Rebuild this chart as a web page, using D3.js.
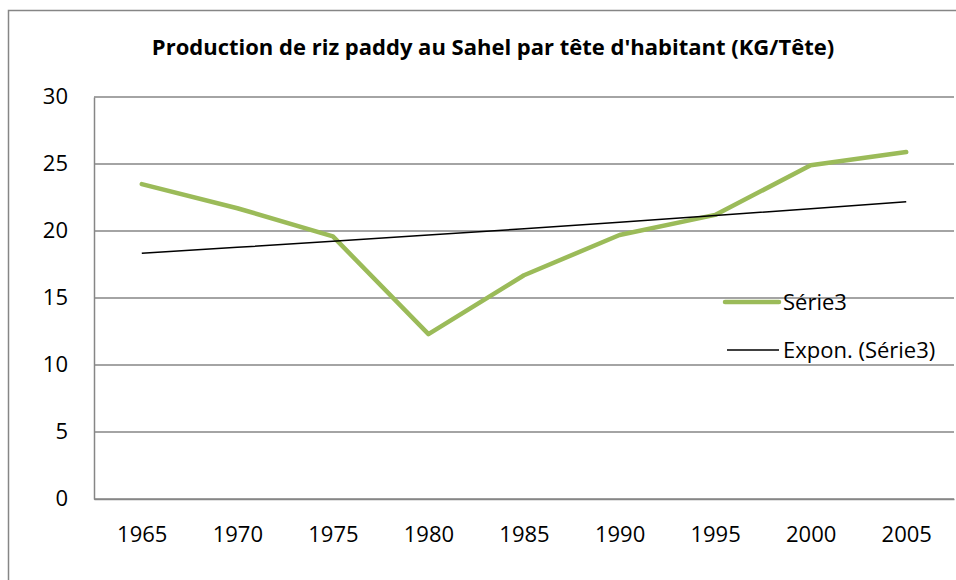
<!DOCTYPE html>
<html>
<head>
<meta charset="utf-8">
<script src="https://cdn.jsdelivr.net/npm/d3@7"></script>
<style>
  body { margin: 0; background: #fff; }
  text { font-family: "Open Sans", sans-serif; fill: #000; }
</style>
</head>
<body>
<script>
// data
const years = ["1965", "1970", "1975", "1980", "1985", "1990", "1995", "2000", "2005"];
const serie3 = [23.5, 21.7, 19.6, 12.3, 16.7, 19.7, 21.2, 24.9, 25.9];
const yTicks = [0, 5, 10, 15, 20, 25, 30];
const legendLabels = ["Série3", "Expon. (Série3)"];
const title = "Production de riz paddy au Sahel par tête d'habitant (KG/Tête)";

const W = 956, H = 580;
const plot = { left: 94, right: 954, top: 97, bottom: 499 };

const svg = d3.select("body").append("svg")
    .attr("width", W)
    .attr("height", H);

// chart frame
svg.append("rect")
    .attr("x", 8.5).attr("y", 10.5)
    .attr("width", W + 20).attr("height", H + 20)
    .attr("fill", "#fff")
    .attr("stroke", "#868686")
    .attr("stroke-width", 1.5);

svg.append("text")
    .attr("x", 493).attr("y", 55)
    .attr("text-anchor", "middle")
    .attr("font-size", 22)
    .attr("font-weight", "bold")
    .text(title);

const x = d3.scalePoint().domain(years).range([plot.left, plot.right]).padding(0.5);
const y = d3.scaleLinear().domain([0, 30]).range([plot.bottom, plot.top]);

// gridlines
svg.append("g")
    .selectAll("line")
    .data(yTicks)
    .enter()
    .append("line")
    .attr("x1", plot.left).attr("x2", plot.right)
    .attr("y1", d => y(d)).attr("y2", d => y(d))
    .attr("stroke", "#868686")
    .attr("stroke-width", 1.5);

// y axis
const yAxis = svg.append("g")
    .attr("transform", `translate(${plot.left},0)`)
    .call(d3.axisLeft(y).tickValues(yTicks).tickSize(0).tickPadding(26));
yAxis.select(".domain").attr("stroke", "#868686").attr("stroke-width", 1.5);
yAxis.selectAll("text").attr("font-size", 22).attr("dy", "0.28em").style("font-family", null);

// x axis
const xAxis = svg.append("g")
    .attr("transform", `translate(0,${plot.bottom})`)
    .call(d3.axisBottom(x).tickSize(0).tickPadding(27));
xAxis.select(".domain").attr("stroke", "#868686").attr("stroke-width", 1.5);
xAxis.selectAll("text").attr("font-size", 22).style("font-family", null);

// series line
const line = d3.line()
    .x((d, i) => x(years[i]))
    .y(d => y(d));

svg.append("path")
    .datum(serie3)
    .attr("fill", "none")
    .attr("stroke", "#9BBB59")
    .attr("stroke-width", 4.5)
    .attr("stroke-linecap", "round")
    .attr("stroke-linejoin", "round")
    .attr("d", line);

// exponential trend (least squares on ln y, like Excel)
const n = serie3.length;
const lnY = serie3.map(v => Math.log(v));
const mx = d3.mean(d3.range(n));
const my = d3.mean(lnY);
const slope = d3.sum(d3.range(n), i => (i - mx) * (lnY[i] - my)) / d3.sum(d3.range(n), i => (i - mx) ** 2);
const icpt = my - slope * mx;
const trend = d3.range(n).map(i => Math.exp(icpt + slope * i));

svg.append("path")
    .datum(trend)
    .attr("fill", "none")
    .attr("stroke", "#000")
    .attr("stroke-width", 1.5)
    .attr("d", line);

// legend
const legend = svg.append("g").attr("transform", "translate(725,302)");
const legendStyles = [
    { stroke: "#9BBB59", width: 4.5 },
    { stroke: "#000", width: 1.5 }
];
legendLabels.forEach((lab, i) => {
    const g = legend.append("g").attr("transform", `translate(0,${i * 48})`);
    g.append("line")
        .attr("x1", i === 0 ? 0 : 2).attr("x2", 54)
        .attr("stroke", legendStyles[i].stroke)
        .attr("stroke-width", legendStyles[i].width)
        .attr("stroke-linecap", i === 0 ? "round" : "butt");
    g.append("text")
        .attr("x", 58).attr("y", 0)
        .attr("dy", "0.35em")
        .attr("font-size", 22)
        .text(lab);
});
</script>
</body>
</html>
